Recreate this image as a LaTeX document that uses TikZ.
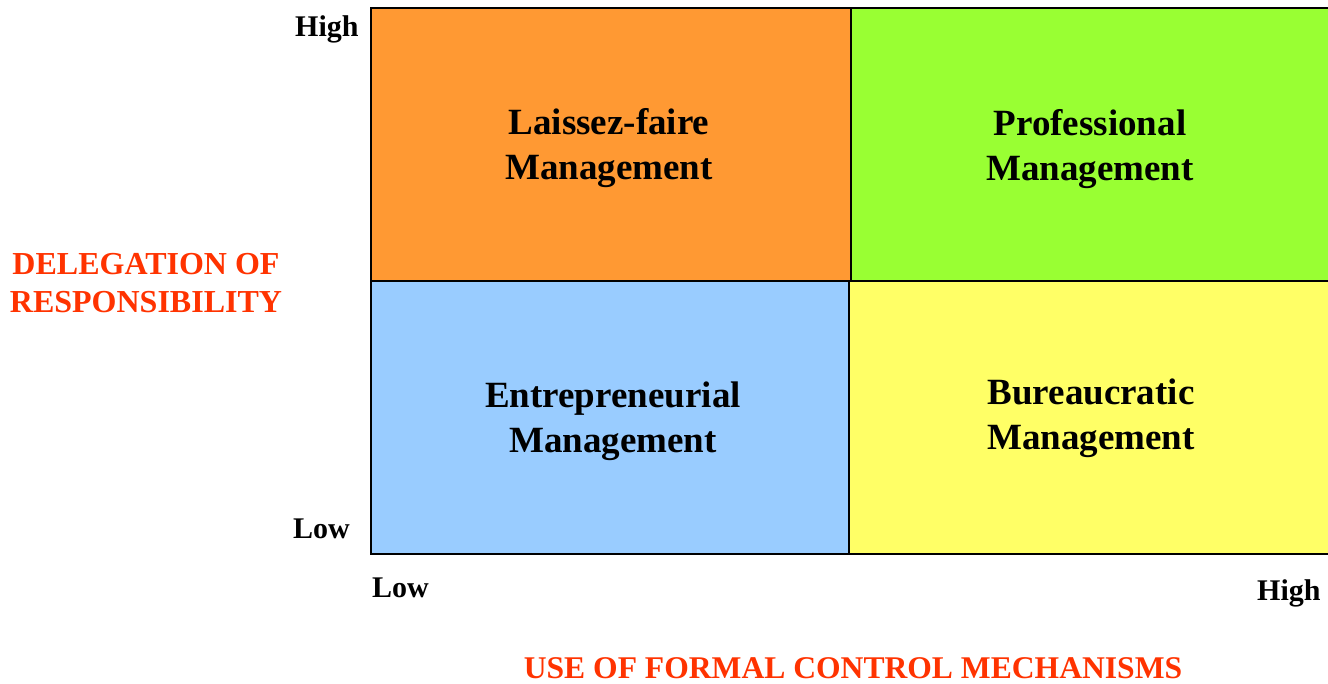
\documentclass[tikz,border=0pt]{standalone}
\usepackage{fontspec}
\setmainfont{Liberation Serif}
\definecolor{qorange}{HTML}{FF9933}
\definecolor{qgreen}{HTML}{99FF33}
\definecolor{qblue}{HTML}{99CCFF}
\definecolor{qyellow}{HTML}{FFFF66}
\definecolor{axred}{HTML}{FF3300}
\begin{document}
\begin{tikzpicture}[x=1pt,y=-1pt,
  quad/.style={draw=black,line width=2pt},
  qtext/.style={align=center,font=\fontsize{37}{45}\selectfont\bfseries,inner sep=0pt},
  tick/.style={font=\fontsize{30}{36}\selectfont\bfseries,inner sep=0pt,anchor=base west},
  axis/.style={font=\fontsize{32}{38}\selectfont\bfseries,text=axred,align=center,inner sep=0pt}]
\path[use as bounding box] (0,0) rectangle (1328,683);
\clip (0,0) rectangle (1328,683);
\fill[white] (0,0) rectangle (1328,683);
\filldraw[quad,fill=qorange] (371,8) rectangle (851,281);
\filldraw[quad,fill=qgreen] (851,8) rectangle (1340,281);
\filldraw[quad,fill=qblue] (371,281) rectangle (849,554);
\filldraw[quad,fill=qyellow] (849,281) rectangle (1340,554);
\node[qtext] (lf) at (609,148) {Laissez-faire\\Management};
\node[qtext] (pm) at (1090,149) {Professional\\Management};
\node[qtext] (em) at (613,421) {Entrepreneurial\\Management};
\node[qtext] (bm) at (1091,418) {Bureaucratic\\Management};
\node[tick] (yhigh) at (295,36) {High};
\node[tick] (ylow) at (293,538) {Low};
\node[tick] (xlow) at (372,597) {Low};
\node[tick] (xhigh) at (1257,600) {High};
\node[axis] (ylab) at (146,283) {DELEGATION OF\\RESPONSIBILITY};
\node[axis,font=\fontsize{31.6}{38}\selectfont\bfseries] (xlab) at (853,668) {USE OF FORMAL CONTROL MECHANISMS};
\end{tikzpicture}
\end{document}
